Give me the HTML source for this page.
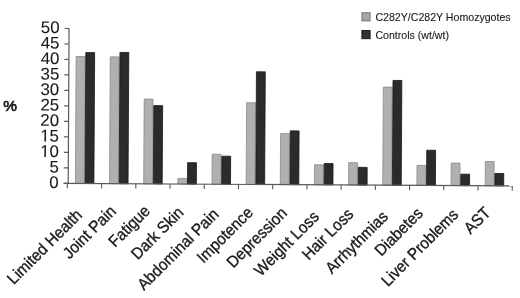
<!DOCTYPE html><html><head><meta charset="utf-8"><style>html,body{margin:0;padding:0;background:#fff;}svg{display:block;filter:blur(0.4px);}text{font-family:"Liberation Sans",sans-serif;stroke:#1a1a1a;stroke-width:0.35px;}</style></head><body>
<svg width="520" height="298" viewBox="0 0 520 298">
<rect width="520" height="298" fill="#fff"/>
<g transform="rotate(0.325 68.2 183.4)">
<rect x="75.40" y="56.47" width="8.85" height="126.93" fill="#b0b0b0" stroke="#8a8a8a" stroke-width="0.8"/>
<rect x="85.05" y="52.44" width="8.85" height="130.96" fill="#2b2b2b" stroke="#161616" stroke-width="0.8"/>
<rect x="109.55" y="56.63" width="8.85" height="126.77" fill="#b0b0b0" stroke="#8a8a8a" stroke-width="0.8"/>
<rect x="119.20" y="52.14" width="8.85" height="131.26" fill="#2b2b2b" stroke="#161616" stroke-width="0.8"/>
<rect x="143.70" y="98.61" width="8.85" height="84.79" fill="#b0b0b0" stroke="#8a8a8a" stroke-width="0.8"/>
<rect x="153.35" y="105.11" width="8.85" height="78.29" fill="#2b2b2b" stroke="#161616" stroke-width="0.8"/>
<rect x="177.85" y="177.76" width="8.85" height="5.64" fill="#b0b0b0" stroke="#8a8a8a" stroke-width="0.8"/>
<rect x="187.50" y="161.96" width="8.85" height="21.44" fill="#2b2b2b" stroke="#161616" stroke-width="0.8"/>
<rect x="212.00" y="153.44" width="8.85" height="29.96" fill="#b0b0b0" stroke="#8a8a8a" stroke-width="0.8"/>
<rect x="221.65" y="155.30" width="8.85" height="28.10" fill="#2b2b2b" stroke="#161616" stroke-width="0.8"/>
<rect x="246.15" y="101.70" width="8.85" height="81.70" fill="#b0b0b0" stroke="#8a8a8a" stroke-width="0.8"/>
<rect x="255.80" y="70.72" width="8.85" height="112.68" fill="#2b2b2b" stroke="#161616" stroke-width="0.8"/>
<rect x="280.30" y="132.22" width="8.85" height="51.18" fill="#b0b0b0" stroke="#8a8a8a" stroke-width="0.8"/>
<rect x="289.95" y="129.59" width="8.85" height="53.82" fill="#2b2b2b" stroke="#161616" stroke-width="0.8"/>
<rect x="314.45" y="163.35" width="8.85" height="20.05" fill="#b0b0b0" stroke="#8a8a8a" stroke-width="0.8"/>
<rect x="324.10" y="162.11" width="8.85" height="21.29" fill="#2b2b2b" stroke="#161616" stroke-width="0.8"/>
<rect x="348.60" y="161.03" width="8.85" height="22.37" fill="#b0b0b0" stroke="#8a8a8a" stroke-width="0.8"/>
<rect x="358.25" y="165.68" width="8.85" height="17.72" fill="#2b2b2b" stroke="#161616" stroke-width="0.8"/>
<rect x="382.75" y="85.28" width="8.85" height="98.12" fill="#b0b0b0" stroke="#8a8a8a" stroke-width="0.8"/>
<rect x="392.40" y="78.59" width="8.85" height="104.81" fill="#2b2b2b" stroke="#161616" stroke-width="0.8"/>
<rect x="416.90" y="163.35" width="8.85" height="20.05" fill="#b0b0b0" stroke="#8a8a8a" stroke-width="0.8"/>
<rect x="426.55" y="148.17" width="8.85" height="35.23" fill="#2b2b2b" stroke="#161616" stroke-width="0.8"/>
<rect x="451.05" y="160.87" width="8.85" height="22.53" fill="#b0b0b0" stroke="#8a8a8a" stroke-width="0.8"/>
<rect x="460.70" y="171.93" width="8.85" height="11.47" fill="#2b2b2b" stroke="#161616" stroke-width="0.8"/>
<rect x="485.20" y="159.11" width="8.85" height="24.29" fill="#b0b0b0" stroke="#8a8a8a" stroke-width="0.8"/>
<rect x="494.85" y="171.10" width="8.85" height="12.30" fill="#2b2b2b" stroke="#161616" stroke-width="0.8"/>
<line x1="68.2" y1="28.50" x2="68.2" y2="184.00" stroke="#5a5a5a" stroke-width="1.2"/>
<line x1="63.70" y1="183.40" x2="68.2" y2="183.40" stroke="#5a5a5a" stroke-width="1.2"/>
<text x="58.7" y="188.00" font-size="16.8" text-anchor="end" style="stroke-width:0.1px" fill="#1a1a1a">0</text>
<line x1="63.70" y1="167.91" x2="68.2" y2="167.91" stroke="#5a5a5a" stroke-width="1.2"/>
<text x="58.7" y="172.51" font-size="16.8" text-anchor="end" style="stroke-width:0.1px" fill="#1a1a1a">5</text>
<line x1="63.70" y1="152.42" x2="68.2" y2="152.42" stroke="#5a5a5a" stroke-width="1.2"/>
<path d="M515,0V1237L197,1010V1180L530,1409H696V0Z" transform="translate(40.013 157.020) scale(0.008203 -0.008203)" fill="#1a1a1a" stroke="#1a1a1a" stroke-width="12.19"/>
<text x="58.7" y="157.02" font-size="16.8" text-anchor="end" style="stroke-width:0.1px" fill="#1a1a1a">0</text>
<line x1="63.70" y1="136.93" x2="68.2" y2="136.93" stroke="#5a5a5a" stroke-width="1.2"/>
<path d="M515,0V1237L197,1010V1180L530,1409H696V0Z" transform="translate(40.013 141.530) scale(0.008203 -0.008203)" fill="#1a1a1a" stroke="#1a1a1a" stroke-width="12.19"/>
<text x="58.7" y="141.53" font-size="16.8" text-anchor="end" style="stroke-width:0.1px" fill="#1a1a1a">5</text>
<line x1="63.70" y1="121.44" x2="68.2" y2="121.44" stroke="#5a5a5a" stroke-width="1.2"/>
<text x="58.7" y="126.04" font-size="16.8" text-anchor="end" style="stroke-width:0.1px" fill="#1a1a1a">20</text>
<line x1="63.70" y1="105.95" x2="68.2" y2="105.95" stroke="#5a5a5a" stroke-width="1.2"/>
<text x="58.7" y="110.55" font-size="16.8" text-anchor="end" style="stroke-width:0.1px" fill="#1a1a1a">25</text>
<line x1="63.70" y1="90.46" x2="68.2" y2="90.46" stroke="#5a5a5a" stroke-width="1.2"/>
<text x="58.7" y="95.06" font-size="16.8" text-anchor="end" style="stroke-width:0.1px" fill="#1a1a1a">30</text>
<line x1="63.70" y1="74.97" x2="68.2" y2="74.97" stroke="#5a5a5a" stroke-width="1.2"/>
<text x="58.7" y="79.57" font-size="16.8" text-anchor="end" style="stroke-width:0.1px" fill="#1a1a1a">35</text>
<line x1="63.70" y1="59.48" x2="68.2" y2="59.48" stroke="#5a5a5a" stroke-width="1.2"/>
<text x="58.7" y="64.08" font-size="16.8" text-anchor="end" style="stroke-width:0.1px" fill="#1a1a1a">40</text>
<line x1="63.70" y1="43.99" x2="68.2" y2="43.99" stroke="#5a5a5a" stroke-width="1.2"/>
<text x="58.7" y="48.59" font-size="16.8" text-anchor="end" style="stroke-width:0.1px" fill="#1a1a1a">45</text>
<line x1="63.70" y1="28.50" x2="68.2" y2="28.50" stroke="#5a5a5a" stroke-width="1.2"/>
<text x="58.7" y="33.10" font-size="16.8" text-anchor="end" style="stroke-width:0.1px" fill="#1a1a1a">50</text>
<line x1="63.7" y1="183.40" x2="512.26" y2="183.40" stroke="#5a5a5a" stroke-width="1.2"/>
<line x1="67.40" y1="183.40" x2="67.40" y2="188.20" stroke="#5a5a5a" stroke-width="1.1"/>
<line x1="101.62" y1="183.40" x2="101.62" y2="188.20" stroke="#5a5a5a" stroke-width="1.1"/>
<line x1="135.84" y1="183.40" x2="135.84" y2="188.20" stroke="#5a5a5a" stroke-width="1.1"/>
<line x1="170.06" y1="183.40" x2="170.06" y2="188.20" stroke="#5a5a5a" stroke-width="1.1"/>
<line x1="204.28" y1="183.40" x2="204.28" y2="188.20" stroke="#5a5a5a" stroke-width="1.1"/>
<line x1="238.50" y1="183.40" x2="238.50" y2="188.20" stroke="#5a5a5a" stroke-width="1.1"/>
<line x1="272.72" y1="183.40" x2="272.72" y2="188.20" stroke="#5a5a5a" stroke-width="1.1"/>
<line x1="306.94" y1="183.40" x2="306.94" y2="188.20" stroke="#5a5a5a" stroke-width="1.1"/>
<line x1="341.16" y1="183.40" x2="341.16" y2="188.20" stroke="#5a5a5a" stroke-width="1.1"/>
<line x1="375.38" y1="183.40" x2="375.38" y2="188.20" stroke="#5a5a5a" stroke-width="1.1"/>
<line x1="409.60" y1="183.40" x2="409.60" y2="188.20" stroke="#5a5a5a" stroke-width="1.1"/>
<line x1="443.82" y1="183.40" x2="443.82" y2="188.20" stroke="#5a5a5a" stroke-width="1.1"/>
<line x1="478.04" y1="183.40" x2="478.04" y2="188.20" stroke="#5a5a5a" stroke-width="1.1"/>
<line x1="512.26" y1="183.40" x2="512.26" y2="188.20" stroke="#5a5a5a" stroke-width="1.1"/>
</g>
<text x="83.01" y="216.00" font-size="16.3" text-anchor="end" textLength="97.78" lengthAdjust="spacingAndGlyphs" fill="#1a1a1a" transform="rotate(-45 83.01 216.00)">Limited Health</text>
<text x="116.93" y="212.20" font-size="16.3" text-anchor="end" textLength="67.19" lengthAdjust="spacingAndGlyphs" fill="#1a1a1a" transform="rotate(-45 116.93 212.20)">Joint Pain</text>
<text x="151.15" y="211.90" font-size="16.3" text-anchor="end" textLength="51.03" lengthAdjust="spacingAndGlyphs" fill="#1a1a1a" transform="rotate(-45 151.15 211.90)">Fatigue</text>
<text x="184.57" y="213.50" font-size="16.3" text-anchor="end" textLength="66.31" lengthAdjust="spacingAndGlyphs" fill="#1a1a1a" transform="rotate(-45 184.57 213.50)">Dark Skin</text>
<text x="219.69" y="215.20" font-size="16.3" text-anchor="end" textLength="107.16" lengthAdjust="spacingAndGlyphs" fill="#1a1a1a" transform="rotate(-45 219.69 215.20)">Abdominal Pain</text>
<text x="253.91" y="213.60" font-size="16.3" text-anchor="end" textLength="71.44" lengthAdjust="spacingAndGlyphs" fill="#1a1a1a" transform="rotate(-45 253.91 213.60)">Impotence</text>
<text x="288.03" y="214.10" font-size="16.3" text-anchor="end" textLength="77.38" lengthAdjust="spacingAndGlyphs" fill="#1a1a1a" transform="rotate(-45 288.03 214.10)">Depression</text>
<text x="320.15" y="217.60" font-size="16.3" text-anchor="end" textLength="83.91" lengthAdjust="spacingAndGlyphs" fill="#1a1a1a" transform="rotate(-45 320.15 217.60)">Weight Loss</text>
<text x="354.47" y="215.20" font-size="16.3" text-anchor="end" textLength="64.61" lengthAdjust="spacingAndGlyphs" fill="#1a1a1a" transform="rotate(-45 354.47 215.20)">Hair Loss</text>
<text x="388.99" y="217.60" font-size="16.3" text-anchor="end" textLength="80.61" lengthAdjust="spacingAndGlyphs" fill="#1a1a1a" transform="rotate(-45 388.99 217.60)">Arrhythmias</text>
<text x="424.01" y="214.30" font-size="16.3" text-anchor="end" textLength="60.38" lengthAdjust="spacingAndGlyphs" fill="#1a1a1a" transform="rotate(-45 424.01 214.30)">Diabetes</text>
<text x="459.33" y="215.70" font-size="16.3" text-anchor="end" textLength="101.02" lengthAdjust="spacingAndGlyphs" fill="#1a1a1a" transform="rotate(-45 459.33 215.70)">Liver Problems</text>
<text x="491.55" y="213.70" font-size="16.3" text-anchor="end" textLength="29.75" lengthAdjust="spacingAndGlyphs" fill="#1a1a1a" transform="rotate(-45 491.55 213.70)">AST</text>
<text x="3.2" y="111.4" font-size="15.4" style="stroke-width:0.7px" fill="#1a1a1a">%</text>
<rect x="361.9" y="12.7" width="8.2" height="8.2" fill="#a6a6a6" stroke="#6e6e6e" stroke-width="0.9"/>
<text x="375.4" y="20.9" font-size="10.6" style="stroke-width:0.1px" fill="#1a1a1a">C282Y/C282Y Homozygotes</text>
<rect x="361.9" y="30.5" width="8.2" height="8.2" fill="#333" stroke="#111" stroke-width="0.9"/>
<text x="375.4" y="39.1" font-size="10.6" style="stroke-width:0.1px" fill="#1a1a1a">Controls (wt/wt)</text>
</svg></body></html>
